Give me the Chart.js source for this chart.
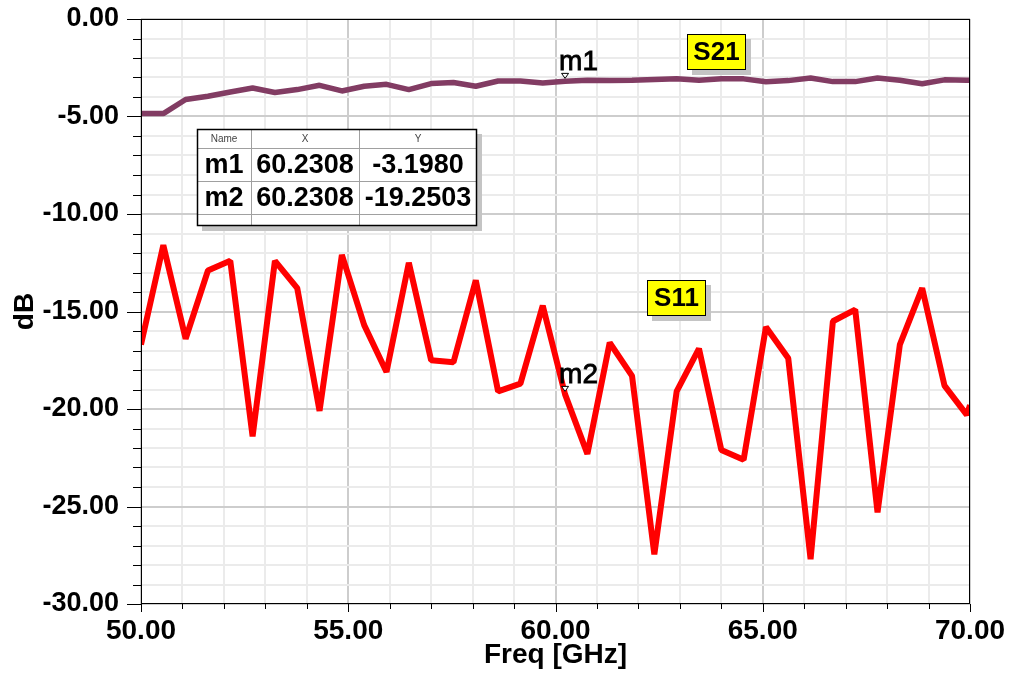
<!DOCTYPE html>
<html>
<head>
<meta charset="utf-8">
<script src="https://cdn.jsdelivr.net/npm/chart.js@4.4.1/dist/chart.umd.min.js"></script>
<style>
  html, body { margin: 0; padding: 0; background: #ffffff; }
  #wrap { width: 1011px; height: 673px; position: relative; }
</style>
</head>
<body>
<div id="wrap"><canvas id="c" width="1011" height="673"></canvas></div>
<script>
// Sweep frequencies (GHz)
const freqGHz = [
  50.0000, 50.5385, 51.0769, 51.6154, 52.1538, 52.6923, 53.2308, 53.7692,
  54.3077, 54.8462, 55.3846, 55.9231, 56.4615, 57.0000, 57.5385, 58.0769,
  58.6154, 59.1538, 59.6923, 60.2308, 60.7692, 61.3077, 61.8462, 62.3846,
  62.9231, 63.4615, 64.0000, 64.5385, 65.0769, 65.6154, 66.1538, 66.6923,
  67.2308, 67.7692, 68.3077, 68.8462, 69.3846, 69.9231, 70.0000
];

// S11 return loss (dB)
const s11dB = [
  -16.7, -11.6, -16.4, -12.9, -12.4, -21.4, -12.4, -13.8,
  -20.1, -12.1, -15.7, -18.1, -12.5, -17.5, -17.6, -13.4,
  -19.1, -18.7, -14.7, -19.2503, -22.3, -16.6, -18.3, -27.45,
  -19.1, -16.9, -22.1, -22.6, -15.8, -17.4, -27.7, -15.5,
  -14.9, -25.3, -16.7, -13.8, -18.8, -20.3, -19.8
];

// S21 insertion loss (dB)
const s21dB = [
  -4.85, -4.85, -4.13, -3.96, -3.74, -3.54, -3.77, -3.62,
  -3.40, -3.69, -3.45, -3.35, -3.62, -3.31, -3.26, -3.45,
  -3.18, -3.18, -3.28, -3.198, -3.14, -3.16, -3.14, -3.10,
  -3.06, -3.14, -3.06, -3.07, -3.22, -3.16, -3.03, -3.21,
  -3.21, -3.03, -3.14, -3.32, -3.12, -3.14, -3.14
];

// Axis ranges and labelled ticks
const xMin = 50, xMax = 70, xMajor = 5;
const yMin = -30, yMax = 0, yMajor = 5;

// Markers
const markerNames = ['m1', 'm2'];
const markerFreq = [60.2308, 60.2308];
const markerDB = [-3.1980, -19.2503];
const markerFreqText = ['60.2308', '60.2308'];
const markerDBText = ['-3.1980', '-19.2503'];

// Trace name tags (GHz, dB centre)
const traceTags = ['S21', 'S11'];
const traceTagX = [63.88, 62.91];
const traceTagY = [-1.68, -14.3];

const FONT = "'Liberation Sans', Arial, Helvetica, sans-serif";
const S21_COLOR = '#823c63';
const S11_COLOR = '#ff0000';

const toXY = (ys) => freqGHz.map((f, i) => ({ x: f, y: ys[i] }));

function gridColor(ctx) {
  const v = ctx.tick ? ctx.tick.value : 0;
  return (Math.round(v) % 5 === 0) ? '#cdcdcd' : '#ebebeb';
}

const overlay = {
  id: 'overlay',
  afterDraw(chart) {
    const { ctx, chartArea: a, scales: { x, y } } = chart;
    ctx.save();

    // plot frame
    ctx.strokeStyle = '#000000';
    ctx.lineWidth = 1;
    ctx.strokeRect(a.left + 0.5, a.top + 0.5, a.right - a.left - 1, a.bottom - a.top - 1);

    // tick marks
    ctx.beginPath();
    for (let v = yMin; v <= yMax; v++) {
      const py = Math.round(y.getPixelForValue(v)) + 0.5;
      const len = (v % yMajor === 0) ? 14 : 8;
      ctx.moveTo(a.left - len, py);
      ctx.lineTo(a.left, py);
    }
    for (let v = xMin; v <= xMax; v++) {
      const px = Math.round(x.getPixelForValue(v)) + 0.5;
      const len = (v % xMajor === 0) ? 8 : 5;
      ctx.moveTo(px, a.bottom);
      ctx.lineTo(px, a.bottom + len);
    }
    ctx.stroke();

    // markers
    for (let i = 0; i < markerNames.length; i++) {
      const px = x.getPixelForValue(markerFreq[i]);
      const py = y.getPixelForValue(markerDB[i]);
      ctx.beginPath();
      ctx.moveTo(px - 3.5, py - 8);
      ctx.lineTo(px + 3.5, py - 8);
      ctx.lineTo(px, py - 3);
      ctx.closePath();
      ctx.fillStyle = '#ffffff';
      ctx.fill();
      ctx.strokeStyle = '#000000';
      ctx.lineWidth = 1;
      ctx.stroke();
      ctx.fillStyle = '#000000';
      ctx.font = '28px ' + FONT;
      ctx.textAlign = 'left';
      ctx.textBaseline = 'alphabetic';
      ctx.lineWidth = 0.8;
      ctx.strokeText(markerNames[i], px - 6, py - 11);
      ctx.fillText(markerNames[i], px - 6, py - 11);
    }

    // trace name tags
    for (let i = 0; i < traceTags.length; i++) {
      const cx = x.getPixelForValue(traceTagX[i]);
      const cy = y.getPixelForValue(traceTagY[i]);
      const w = 59, h = 36;
      const bx = Math.round(cx - w / 2), by = Math.round(cy - h / 2);
      ctx.fillStyle = '#c4c4c4';
      ctx.fillRect(bx + 5, by + 5, w, h);
      ctx.fillStyle = '#ffff00';
      ctx.fillRect(bx, by, w, h);
      ctx.strokeStyle = '#000000';
      ctx.lineWidth = 1;
      ctx.strokeRect(bx + 0.5, by + 0.5, w - 1, h - 1);
      ctx.fillStyle = '#000000';
      ctx.font = 'bold 26px ' + FONT;
      ctx.textAlign = 'center';
      ctx.textBaseline = 'middle';
      ctx.fillText(traceTags[i], bx + w / 2, by + h / 2 + 1);
    }

    // marker table
    const tx = 197, ty = 129;
    const colW = [54, 108, 118];
    const rowH = [19, 33, 33, 12];
    const tw = colW.reduce((s, v) => s + v, 0);
    const th = rowH.reduce((s, v) => s + v, 0);
    ctx.fillStyle = '#c4c4c4';
    ctx.fillRect(tx + 5, ty + 5, tw, th);
    ctx.fillStyle = '#ffffff';
    ctx.fillRect(tx, ty, tw, th);
    ctx.strokeStyle = '#a0a0a0';
    ctx.lineWidth = 1;
    ctx.beginPath();
    let cxp = tx;
    for (let c = 0; c < colW.length - 1; c++) {
      cxp += colW[c];
      ctx.moveTo(cxp + 0.5, ty);
      ctx.lineTo(cxp + 0.5, ty + th);
    }
    let ryp = ty;
    for (let r = 0; r < rowH.length - 1; r++) {
      ryp += rowH[r];
      ctx.moveTo(tx, ryp + 0.5);
      ctx.lineTo(tx + tw, ryp + 0.5);
    }
    ctx.stroke();
    ctx.strokeStyle = '#000000';
    ctx.lineWidth = 1.5;
    ctx.strokeRect(tx + 0.5, ty + 0.5, tw - 1, th - 1);

    const colCenters = [];
    let acc = tx;
    for (const w of colW) { colCenters.push(acc + w / 2); acc += w; }
    ctx.textAlign = 'center';
    ctx.textBaseline = 'middle';
    ctx.fillStyle = '#444444';
    ctx.font = '10px ' + FONT;
    ['Name', 'X', 'Y'].forEach((t, c) => ctx.fillText(t, colCenters[c], ty + rowH[0] / 2 + 1));
    ctx.fillStyle = '#000000';
    ctx.font = 'bold 27px ' + FONT;
    let rowTop = ty + rowH[0];
    for (let i = 0; i < markerNames.length; i++) {
      const cy = rowTop + rowH[i + 1] / 2 + 1;
      ctx.fillText(markerNames[i], colCenters[0], cy);
      ctx.fillText(markerFreqText[i], colCenters[1], cy);
      ctx.fillText(markerDBText[i], colCenters[2], cy);
      rowTop += rowH[i + 1];
    }
    ctx.restore();
  }
};

new Chart(document.getElementById('c'), {
  type: 'line',
  data: {
    datasets: [
      {
        label: 'S21',
        data: toXY(s21dB),
        borderColor: S21_COLOR,
        borderWidth: 5.5,
        borderJoinStyle: 'bevel',
        pointRadius: 0,
        tension: 0,
        fill: false
      },
      {
        label: 'S11',
        data: toXY(s11dB),
        borderColor: S11_COLOR,
        borderWidth: 6,
        borderJoinStyle: 'bevel',
        pointRadius: 0,
        tension: 0,
        fill: false
      }
    ]
  },
  options: {
    responsive: false,
    animation: false,
    devicePixelRatio: 1,
    layout: { padding: { top: 19, right: 41, left: 0, bottom: 0 } },
    plugins: {
      legend: { display: false },
      tooltip: { enabled: false }
    },
    scales: {
      x: {
        type: 'linear',
        min: xMin,
        max: xMax,
        afterFit: (s) => { s.height = 69; s.paddingLeft = 0; s.paddingRight = 0; },
        border: { display: false },
        grid: { color: gridColor, lineWidth: 2, drawTicks: false },
        ticks: {
          stepSize: 1,
          autoSkip: false,
          maxRotation: 0,
          padding: 10,
          color: '#000000',
          font: { family: FONT, size: 28, weight: 'bold' },
          callback: (v) => (v % xMajor === 0 ? Number(v).toFixed(2) : '')
        },
        title: {
          display: true,
          text: 'Freq [GHz]',
          color: '#000000',
          font: { family: FONT, size: 28, weight: 'bold' },
          padding: { top: 0, bottom: 1 }
        }
      },
      y: {
        min: yMin,
        max: yMax,
        afterFit: (s) => { s.width = 141; s.paddingTop = 0; s.paddingBottom = 0; },
        border: { display: false },
        grid: { color: gridColor, lineWidth: 2, drawTicks: false },
        ticks: {
          stepSize: 1,
          autoSkip: false,
          padding: 22,
          color: '#000000',
          font: { family: FONT, size: 27, weight: 'bold' },
          callback: (v) => (v % yMajor === 0 ? Number(v).toFixed(2) : '')
        },
        title: {
          display: true,
          text: 'dB',
          color: '#000000',
          font: { family: FONT, size: 28, weight: 'bold' },
          padding: { top: 8, bottom: 0 }
        }
      }
    }
  },
  plugins: [overlay]
});
</script>
</body>
</html>
